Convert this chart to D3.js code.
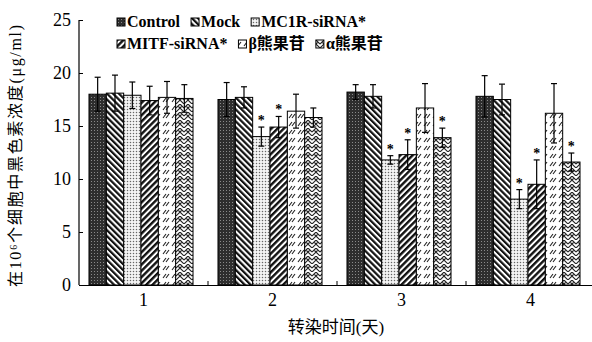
<!DOCTYPE html>
<html>
<head>
<meta charset="utf-8">
<script src="https://cdn.jsdelivr.net/npm/d3@7"></script>
<style>
  body { margin: 0; background: #fff; }
  svg { display: block; }
</style>
</head>
<body>
<svg id="chart" width="592" height="342"></svg>
<script>
// days after transfection
const days = ["1", "2", "3", "4"];
const groups = ["Control", "Mock", "MC1R-siRNA*", "MITF-siRNA*", "β熊果苷", "α熊果苷"];
const patternIds = ["pControl", "pMock", "pMc1r", "pMitf", "pBeta", "pAlpha"];

// melanin content per 10^6 cells (µg/ml)
const controlVals = [18.0, 17.5, 18.2, 17.8];
const mockVals    = [18.1, 17.7, 17.8, 17.5];
const mc1rVals    = [17.9, 14.0, 11.8, 8.1];
const mitfVals    = [17.4, 14.9, 12.3, 9.5];
const betaVals    = [17.7, 16.4, 16.7, 16.2];
const alphaVals   = [17.6, 15.8, 13.9, 11.6];

// error bars (SD)
const controlErr = [1.6, 1.6, 0.7, 1.95];
const mockErr    = [1.7, 1.0, 1.1, 1.45];
const mc1rErr    = [1.25, 0.9, 0.4, 0.9];
const mitfErr    = [1.35, 1.0, 1.4, 2.3];
const betaErr    = [1.5, 1.6, 2.3, 2.8];
const alphaErr   = [1.3, 0.9, 0.9, 0.85];

// significance marks
const controlStar = [0, 0, 0, 0];
const mockStar    = [0, 0, 0, 0];
const mc1rStar    = [0, 1, 1, 1];
const mitfStar    = [0, 1, 1, 1];
const betaStar    = [0, 0, 0, 0];
const alphaStar   = [0, 0, 1, 1];

const yTicks = [0, 5, 10, 15, 20, 25];

const allVals = [controlVals, mockVals, mc1rVals, mitfVals, betaVals, alphaVals];
const allErr = [controlErr, mockErr, mc1rErr, mitfErr, betaErr, alphaErr];
const allStar = [controlStar, mockStar, mc1rStar, mitfStar, betaStar, alphaStar];

const rows = [];
days.forEach((d, i) => {
    groups.forEach((g, j) => {
        rows.push({day: d, group: g, pat: patternIds[j], v: allVals[j][i], e: allErr[j][i], star: allStar[j][i]});
    });
});

const serif = "'Times New Roman', 'Liberation Serif', 'DejaVu Serif', serif";
const cjk = "'Times New Roman', 'Liberation Serif', 'Noto Sans CJK SC', serif";

const svg = d3.select("#chart");
const margin = {left: 79, top: 20, right: 595, bottom: 285};

// patterns for the bars
const defs = svg.append("defs");

var p = defs.append("pattern").attr("id", "pControl").attr("patternUnits", "userSpaceOnUse")
    .attr("width", 3).attr("height", 3);
p.append("rect").attr("width", 3).attr("height", 3).attr("fill", "#2e2e2e");
p.append("rect").attr("x", 1).attr("y", 1).attr("width", 1).attr("height", 1).attr("fill", "#8a8a8a");

p = defs.append("pattern").attr("id", "pMock").attr("patternUnits", "userSpaceOnUse")
    .attr("width", 4.2).attr("height", 4.2).attr("patternTransform", "rotate(-45)");
p.append("rect").attr("width", 4.2).attr("height", 4.2).attr("fill", "#fff");
p.append("rect").attr("width", 2.2).attr("height", 4.2).attr("fill", "#111");

p = defs.append("pattern").attr("id", "pMc1r").attr("patternUnits", "userSpaceOnUse")
    .attr("width", 3).attr("height", 3);
p.append("rect").attr("width", 3).attr("height", 3).attr("fill", "#f4f4f4");
p.append("circle").attr("cx", 1.5).attr("cy", 1.5).attr("r", 0.75).attr("fill", "#666");

p = defs.append("pattern").attr("id", "pMitf").attr("patternUnits", "userSpaceOnUse")
    .attr("width", 4.4).attr("height", 4.4).attr("patternTransform", "rotate(45)");
p.append("rect").attr("width", 4.4).attr("height", 4.4).attr("fill", "#fff");
p.append("rect").attr("width", 2.4).attr("height", 4.4).attr("fill", "#111");

p = defs.append("pattern").attr("id", "pBeta").attr("patternUnits", "userSpaceOnUse")
    .attr("width", 9).attr("height", 8);
p.append("rect").attr("width", 9).attr("height", 8).attr("fill", "#fff");
p.append("path").attr("d", "M1,6 L4,2 M4,6 L7,2").attr("stroke", "#222").attr("stroke-width", 1.1).attr("fill", "none");

p = defs.append("pattern").attr("id", "pAlpha").attr("patternUnits", "userSpaceOnUse")
    .attr("width", 8).attr("height", 8);
p.append("rect").attr("width", 8).attr("height", 8).attr("fill", "#fff");
p.append("path").attr("d", "M0,4 L4,0 L8,4 M0,8 L4,4 L8,8 M2,2 L4,4 M6,2 L4,4")
    .attr("stroke", "#222").attr("stroke-width", 1.1).attr("fill", "none");

// scales
const x = d3.scaleBand().domain(days).range([margin.left, margin.right]).padding(0);
const xInner = d3.scaleBand().domain(groups).range([0, x.bandwidth()])
    .paddingInner(0).paddingOuter(0.72).align(0.4);
const y = d3.scaleLinear().domain([0, 25]).range([margin.bottom, margin.top]);

// bars
const bars = svg.append("g").attr("class", "bars");
bars.selectAll("rect")
    .data(rows)
    .enter()
    .append("rect")
        .attr("x", d => x(d.day) + xInner(d.group))
        .attr("y", d => y(d.v))
        .attr("width", xInner.bandwidth())
        .attr("height", d => y(0) - y(d.v))
        .attr("fill", d => "url(#" + d.pat + ")")
        .attr("stroke", "#000")
        .attr("stroke-width", 1);

// error bars
const errs = svg.append("g").attr("class", "errs").attr("stroke", "#000").attr("stroke-width", 1.2);
const cx = d => x(d.day) + xInner(d.group) + xInner.bandwidth() / 2;
errs.selectAll("line.v").data(rows).enter().append("line").attr("class", "v")
    .attr("x1", cx).attr("x2", cx)
    .attr("y1", d => y(d.v - d.e)).attr("y2", d => y(d.v + d.e));
errs.selectAll("line.t").data(rows).enter().append("line").attr("class", "t")
    .attr("x1", d => cx(d) - 3).attr("x2", d => cx(d) + 3)
    .attr("y1", d => y(d.v + d.e)).attr("y2", d => y(d.v + d.e));
errs.selectAll("line.b").data(rows).enter().append("line").attr("class", "b")
    .attr("x1", d => cx(d) - 3).attr("x2", d => cx(d) + 3)
    .attr("y1", d => y(d.v - d.e)).attr("y2", d => y(d.v - d.e));

// stars
svg.append("g").selectAll("text")
    .data(rows.filter(d => d.star))
    .enter()
    .append("text")
        .attr("x", cx)
        .attr("y", d => y(d.v + d.e) - 2)
        .attr("text-anchor", "middle")
        .style("font-family", serif)
        .style("font-weight", "bold")
        .style("font-size", "14px")
        .style("fill", "#000")
        .text("*");

// y axis
const yAxis = svg.append("g")
    .attr("transform", `translate(${margin.left},0)`)
    .call(d3.axisLeft(y).tickValues(yTicks).tickSize(-4).tickPadding(8));
yAxis.select(".domain").attr("d", `M0,${y(25)}V${y(0)}`).attr("stroke-width", 1.2);
yAxis.selectAll("text").style("font-family", serif).style("font-size", "18px").style("fill", "#000");

// x axis
const xAxis = svg.append("g")
    .attr("transform", `translate(0,${margin.bottom})`)
    .call(d3.axisBottom(x).tickSize(0).tickPadding(8));
xAxis.select(".domain").attr("stroke-width", 1.2);
xAxis.selectAll("text").style("font-family", serif).style("font-size", "18px").style("fill", "#000");
xAxis.selectAll("line.sep")
    .data(days)
    .enter()
    .append("line").attr("class", "sep")
        .attr("x1", d => x(d) + x.step()).attr("x2", d => x(d) + x.step())
        .attr("y1", 0).attr("y2", -4)
        .attr("stroke", "#000");

// axis titles
svg.append("text")
    .attr("x", 336).attr("y", 333)
    .attr("text-anchor", "middle")
    .style("font-family", cjk)
    .style("font-size", "17px")
    .text("转染时间(天)");

svg.append("text")
    .attr("transform", "translate(21,156) rotate(-90)")
    .attr("text-anchor", "middle")
    .attr("textLength", 262)
    .attr("lengthAdjust", "spacing")
    .style("font-family", cjk)
    .style("font-size", "16px")
    .text("在10⁶个细胞中黑色素浓度(μg/ml)");

// legend, two rows of three
const legend = svg.append("g").attr("class", "legend");
[0, 1].forEach(r => {
    var lx = 117;
    groups.slice(r * 3, r * 3 + 3).forEach((g, k) => {
        const j = r * 3 + k;
        const ly = 27 + r * 22;
        legend.append("rect")
            .attr("x", lx).attr("y", ly - 9)
            .attr("width", 8).attr("height", 8)
            .attr("fill", "url(#" + patternIds[j] + ")")
            .attr("stroke", "#000").attr("stroke-width", 1);
        const t = legend.append("text")
            .attr("x", lx + 10).attr("y", ly)
            .style("font-family", cjk)
            .style("font-weight", "bold")
            .style("font-size", "16px")
            .text(g);
        lx += 10 + t.node().getComputedTextLength() + 11;
    });
});
</script>
</body>
</html>
